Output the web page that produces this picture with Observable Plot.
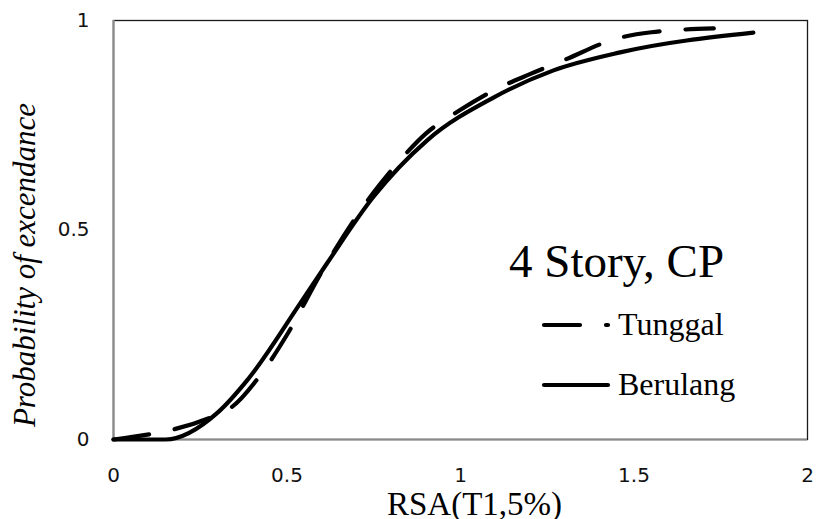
<!DOCTYPE html>
<html>
<head>
<meta charset="utf-8">
<script src="https://cdn.jsdelivr.net/npm/d3@7"></script>
<script src="https://cdn.jsdelivr.net/npm/@observablehq/plot@0.6"></script>
<style>
  html, body { margin: 0; padding: 0; background: #fff; }
  #chart svg { display: block; }
</style>
</head>
<body>
<div id="chart"></div>
<script>
// Fragility curves: probability of exceedance vs spectral acceleration
const seriesNames = ["Tunggal", "Berulang"];

const tunggalRSA  = [0, 0.33, 0.42, 0.50, 0.60, 0.75, 0.82, 0.90, 1.00, 1.10, 1.20, 1.30, 1.45, 1.55, 1.73];
const tunggalProb = [0, 0.072, 0.15, 0.25, 0.40, 0.59, 0.661, 0.73, 0.787, 0.835, 0.872, 0.906, 0.957, 0.972, 0.981];

const berulangRSA  = [0, 0.15, 0.30, 0.385, 0.538, 0.615, 0.748, 0.904, 1.095, 1.268, 1.46, 1.844];
const berulangProb = [0, 0, 0.064, 0.141, 0.325, 0.42, 0.578, 0.714, 0.816, 0.881, 0.924, 0.971];

const xTicks = [0, 0.5, 1, 1.5, 2];
const yTicks = [0, 0.5, 1];

const chartTitle = "4 Story, CP";
const xLabel = "RSA(T1,5%)";
const yLabel = "Probability of excendance";

const tunggal = tunggalRSA.map((x, i) => ({x, y: tunggalProb[i]}));
const berulang = berulangRSA.map((x, i) => ({x, y: berulangProb[i]}));

const serif = "'Liberation Serif', 'Times New Roman', serif";
const sans = "'DejaVu Sans', sans-serif";
const dash = "36,26";
const fmt = d => String(d);

const plot = Plot.plot({
  width: 816,
  height: 519,
  marginLeft: 113,
  marginRight: 9,
  marginTop: 20,
  marginBottom: 80,
  x: {domain: [0, 2]},
  y: {domain: [0, 1]},
  style: {background: "#fff", overflow: "visible"},
  marks: [
    Plot.frame({stroke: "#1a1a1a", strokeWidth: 1.3}),
    Plot.ruleX([0], {stroke: "#8a8a8a", strokeWidth: 2.2}),
    Plot.ruleY([0], {stroke: "#8a8a8a", strokeWidth: 2.2}),
    Plot.axisX({ticks: xTicks, tickFormat: fmt, tickSize: 0, tickPadding: 28, fontSize: 20, fontFamily: sans, label: null, color: "#111"}),
    Plot.axisY({ticks: yTicks, tickFormat: fmt, tickSize: 0, tickPadding: 24, fontSize: 20, fontFamily: sans, label: null, color: "#111"}),
    Plot.line(berulang, {x: "x", y: "y", curve: "monotone-x", stroke: "#000", strokeWidth: 4.2, strokeLinecap: "round", strokeLinejoin: "round"}),
    Plot.line(tunggal, {x: "x", y: "y", curve: "monotone-x", stroke: "#000", strokeWidth: 4.2, strokeLinecap: "round", strokeDasharray: dash}),
    Plot.text([xLabel], {frameAnchor: "bottom", textAnchor: "middle", lineAnchor: "middle", dx: 14, dy: 65, fontSize: 33, fontFamily: serif, fill: "#000"}),
    Plot.text([yLabel], {frameAnchor: "left", textAnchor: "middle", lineAnchor: "middle", rotate: -90, dx: -88, dy: 35, fontSize: 31, fontStyle: "italic", fontFamily: serif, fill: "#000"})
  ]
});

document.getElementById("chart").appendChild(plot);

// In-plot legend block with the case title
const svg = d3.select(plot);
const g = svg.append("g").attr("font-family", serif).attr("fill", "#000").attr("text-anchor", "start");
g.append("text").attr("x", 509).attr("y", 277).attr("font-size", 47).text(chartTitle);

const legendRows = [
  {name: seriesNames[0], y: 325, dash},
  {name: seriesNames[1], y: 385, dash: null}
];
legendRows.forEach(r => {
  g.append("line")
    .attr("x1", 544).attr("x2", 608).attr("y1", r.y).attr("y2", r.y)
    .attr("stroke", "#000").attr("stroke-width", 4.2).attr("stroke-linecap", "round")
    .attr("stroke-dasharray", r.dash);
  g.append("text").attr("x", 618).attr("y", r.y + 10).attr("font-size", 32).text(r.name);
});
</script>
</body>
</html>
